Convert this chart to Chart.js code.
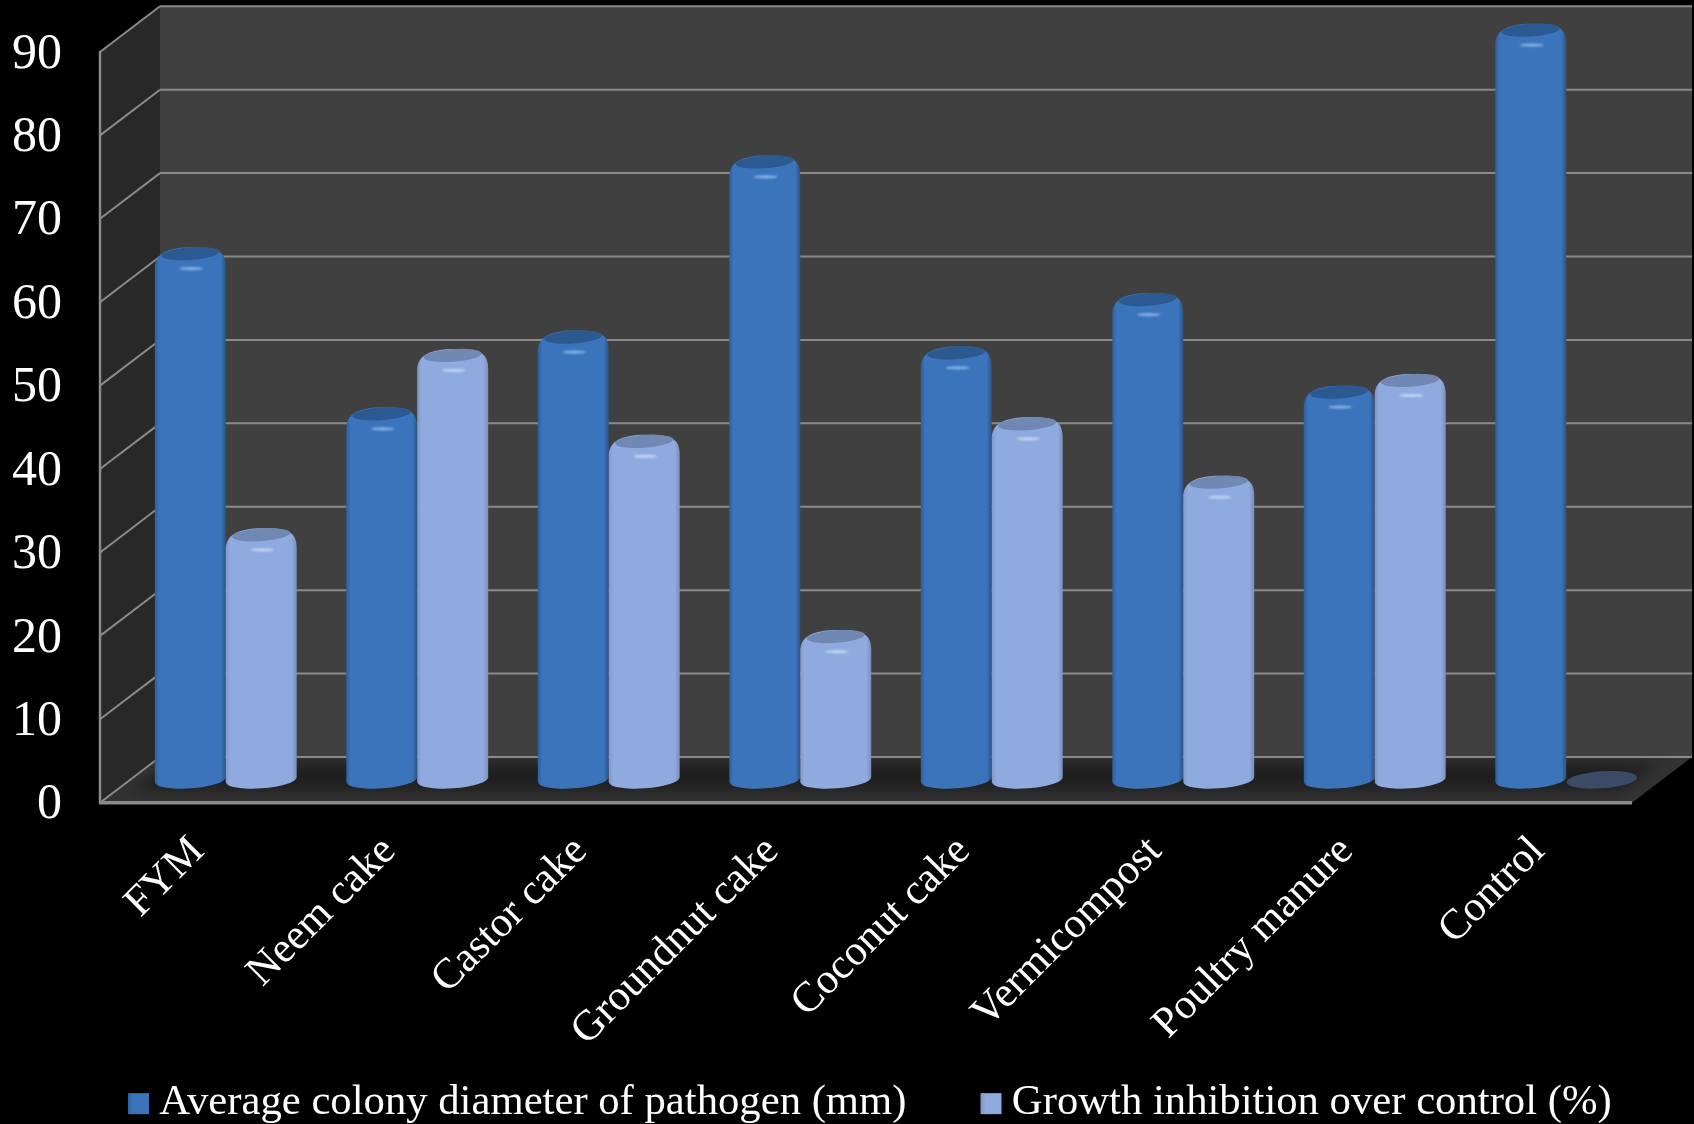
<!DOCTYPE html>
<html>
<head>
<meta charset="utf-8">
<style>
  html, body { margin: 0; background: #000; }
  canvas { display: block; }
</style>
<script src="https://cdn.jsdelivr.net/npm/chart.js@4/dist/chart.umd.min.js"></script>
</head>
<body>
<canvas id="ColonyChart" width="1694" height="1124"></canvas>
<script>
const categories = ["FYM", "Neem cake", "Castor cake", "Groundnut cake", "Coconut cake", "Vermicompost", "Poultry manure", "Control"];
const colonyDiameter = [63.2, 44.0, 53.2, 74.2, 51.3, 57.7, 46.6, 90];
const growthInhibition = [29.5, 51.0, 40.7, 17.3, 42.8, 35.8, 48.0, 0];
const yTicks = [0, 10, 20, 30, 40, 50, 60, 70, 80, 90];

const serif = "'Liberation Serif', 'Times New Roman', serif";

// depth of the box: how far the back wall sits from the front edge
const depthX = 60;
const depthY = -45.7;

// side shading of a cylinder, per series
const looks = [
    { edgeL: "#2f5f9c", main: "#3b74bb", edgeR: "#2a5488", cap: "#2b5a92", shine: "#86b0e6" },
    { edgeL: "#8398c4", main: "#8eaade", edgeR: "#7a90ba", cap: "#7288b4", shine: "#c3d5f3" }
];

function fillPoly(ctx, pts, color) {
    ctx.beginPath();
    pts.forEach((p, i) => i ? ctx.lineTo(p[0], p[1]) : ctx.moveTo(p[0], p[1]));
    ctx.closePath();
    ctx.fillStyle = color;
    ctx.fill();
}

function line(ctx, x1, y1, x2, y2, width) {
    ctx.beginPath();
    ctx.moveTo(x1, y1);
    ctx.lineTo(x2, y2);
    ctx.lineWidth = width;
    ctx.strokeStyle = "#8a8a8a";
    ctx.stroke();
}

function drawBox(chart) {
    const ctx = chart.ctx;
    const { left, right } = chart.chartArea;
    const yScale = chart.scales.y;
    const top = yScale.getPixelForValue(90);
    const floor = yScale.getPixelForValue(0);

    ctx.save();
    fillPoly(ctx, [[left + depthX, top + depthY], [right + depthX, top + depthY], [right + depthX, floor + depthY], [left + depthX, floor + depthY]], "#404040");
    fillPoly(ctx, [[left, top], [left + depthX, top + depthY], [left + depthX, floor + depthY], [left, floor]], "#282828");

    // floor, with the soft dark patch under the columns
    const floorPts = [[left, floor], [right, floor], [right + depthX, floor + depthY], [left + depthX, floor + depthY]];
    fillPoly(ctx, floorPts, "#333333");
    ctx.save();
    ctx.clip();
    ctx.filter = "blur(7px)";
    fillPoly(ctx, [[left + 28, floor - 12], [right - 12, floor - 12], [right + depthX - 32, floor + depthY + 6], [left + depthX + 12, floor + depthY + 6]], "#1f1f1f");
    ctx.restore();

    yTicks.forEach(v => {
        const y = yScale.getPixelForValue(v);
        line(ctx, left, y, left + depthX, y + depthY, 2);
        line(ctx, left + depthX, y + depthY, right + depthX, y + depthY, 2);
    });
    line(ctx, left, top - 1, left, floor + 1, 2.5);
    line(ctx, left - 1, floor, right, floor, 3.5);
    ctx.restore();
}

function drawCylinder(ctx, el, look, isZero) {
    const cx = el.x + depthX / 2;
    const halfW = el.width / 2;
    const capY = el.y + depthY / 2 + 1;
    const baseY = el.base + depthY / 2;
    const tilt = -0.07;
    const l = cx - halfW;
    const r = cx + halfW;

    if (isZero) {
        ctx.beginPath();
        ctx.ellipse(cx, baseY, halfW, 8.5, tilt, 0, Math.PI * 2);
        ctx.fillStyle = "#3b4a66";
        ctx.fill();
        return;
    }

    const side = ctx.createLinearGradient(l, 0, r, 0);
    side.addColorStop(0, look.edgeL);
    side.addColorStop(0.06, look.main);
    side.addColorStop(0.93, look.main);
    side.addColorStop(1, look.edgeR);

    ctx.beginPath();
    ctx.moveTo(l, baseY);
    ctx.lineTo(l, capY + 15);
    ctx.bezierCurveTo(l, capY + 1, cx - halfW * 0.7, capY - 6.5, cx + 2, capY - 6.5);
    ctx.bezierCurveTo(cx + halfW * 0.65, capY - 6.5, r, capY - 5, r, capY + 13);
    ctx.lineTo(r, baseY - 2);
    ctx.ellipse(cx, baseY, halfW, 8.5, tilt, 0, Math.PI);
    ctx.closePath();
    ctx.fillStyle = side;
    ctx.fill();

    // inset top face and the small highlight under it
    ctx.beginPath();
    ctx.ellipse(cx, capY, halfW * 0.82, 6.3, tilt, 0, Math.PI * 2);
    ctx.fillStyle = look.cap;
    ctx.fill();

    ctx.save();
    ctx.filter = "blur(1px)";
    ctx.beginPath();
    ctx.ellipse(cx + 1, capY + 15, 12, 1.6, 0, 0, Math.PI * 2);
    ctx.fillStyle = look.shine;
    ctx.fill();
    ctx.restore();
}

const cylinderPlugin = {
    id: "cylinders",
    afterLayout(chart) {
        // the legend row starts further right than the plot box and sits lower
        const legend = chart.legend;
        const dx = 54;
        const dy = 10;
        legend.left += dx;
        legend.right += dx;
        legend.top += dy;
        legend.bottom += dy;
        legend.legendHitBoxes.forEach(h => { h.left += dx; h.top += dy; });
        // rotated category names run past the scale box, keep them whole
        chart.scales.x.bottom = chart.height;
    },
    beforeDraw(chart) {
        drawBox(chart);
    },
    beforeDatasetDraw() {
        return false;
    },
    afterDatasetsDraw(chart) {
        const dark = chart.getDatasetMeta(0).data;
        const pale = chart.getDatasetMeta(1).data;
        categories.forEach((c, i) => {
            drawCylinder(chart.ctx, dark[i], looks[0], colonyDiameter[i] === 0);
            drawCylinder(chart.ctx, pale[i], looks[1], growthInhibition[i] === 0);
        });
    },
    afterDraw(chart) {
        const ctx = chart.ctx;
        chart.legend.legendHitBoxes.forEach((h, i) => {
            const look = looks[i];
            const size = 21;
            const y = h.top + (h.height - size) / 2 - 9;
            const g = ctx.createLinearGradient(h.left, 0, h.left + size, 0);
            g.addColorStop(0, look.edgeL);
            g.addColorStop(0.25, look.main);
            g.addColorStop(1, look.main);
            ctx.fillStyle = g;
            ctx.fillRect(h.left, y, size, size);
        });
    }
};

new Chart(document.getElementById("ColonyChart").getContext("2d"), {
    type: "bar",
    data: {
        labels: categories,
        datasets: [
            { label: "Average colony diameter of pathogen (mm)", data: colonyDiameter, backgroundColor: "#3b74bb", barPercentage: 1, categoryPercentage: 0.741 },
            { label: "Growth inhibition over control (%)", data: growthInhibition, backgroundColor: "#8eaade", barPercentage: 1, categoryPercentage: 0.741 }
        ]
    },
    plugins: [cylinderPlugin],
    options: {
        responsive: false,
        animation: false,
        layout: { padding: { left: 0, right: 62, top: 52, bottom: 0 } },
        plugins: {
            tooltip: { enabled: false },
            legend: {
                position: "bottom",
                align: "start",
                labels: {
                    color: "#ffffff",
                    font: { family: serif, size: 42.7 },
                    boxWidth: 10,
                    boxHeight: 21,
                    padding: 74,
                    generateLabels: chart => chart.data.datasets.map((d, i) => ({
                        text: d.label,
                        fillStyle: "rgba(0,0,0,0)",
                        strokeStyle: "rgba(0,0,0,0)",
                        lineWidth: 0,
                        fontColor: "#ffffff",
                        datasetIndex: i
                    }))
                }
            }
        },
        scales: {
            x: {
                grid: { display: false },
                border: { display: false },
                afterFit: s => { s.height = 194.6; },
                ticks: {
                    color: "#ffffff",
                    font: { family: serif, size: 42.6 },
                    autoSkip: false,
                    minRotation: 45,
                    maxRotation: 45,
                    padding: 16,
                    labelOffset: 2
                }
            },
            y: {
                min: 0,
                max: 90,
                afterFit: s => { s.width = 100; s.paddingTop = 0; s.paddingBottom = 0; },
                grid: { display: false },
                border: { display: false },
                afterBuildTicks: s => { s.ticks = yTicks.map(v => ({ value: v })); },
                ticks: {
                    color: "#ffffff",
                    font: { family: serif, size: 50 },
                    padding: 30,
                    labelOffset: 2.5
                }
            }
        }
    }
});
</script>
</body>
</html>
